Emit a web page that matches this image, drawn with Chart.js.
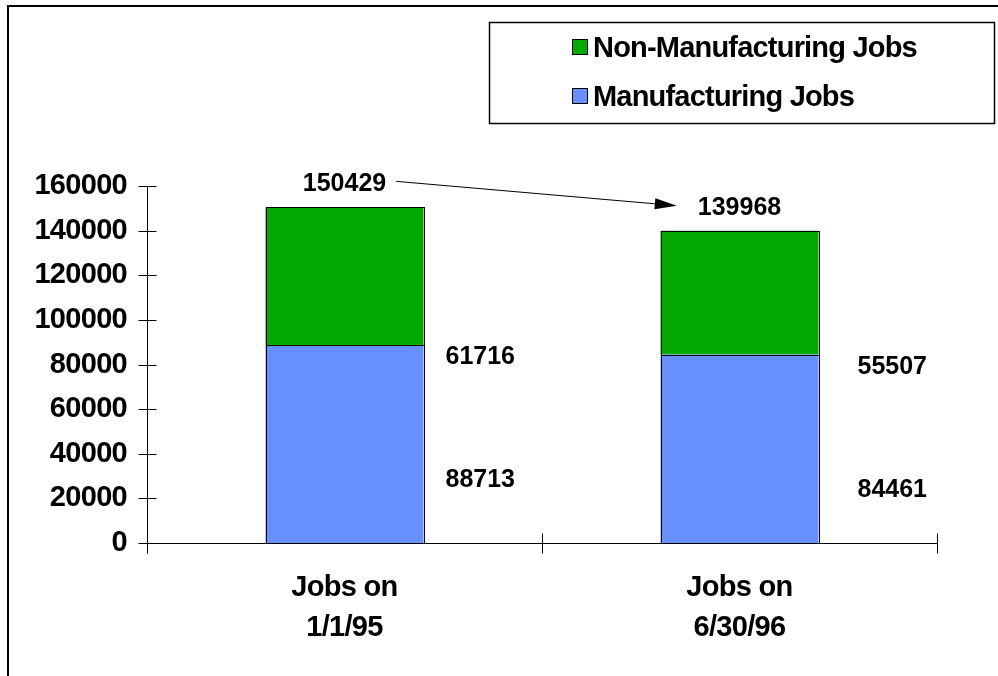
<!DOCTYPE html>
<html><head><meta charset="utf-8">
<script src="https://cdn.jsdelivr.net/npm/chart.js@4"></script>
<style>html,body{margin:0;padding:0;background:#fff;overflow:hidden;} canvas{display:block;}</style>
</head><body>
<canvas id="c" width="998" height="676" style="width:998px;height:676px"></canvas>
<script>
// ---- data ----
const categories = [["Jobs on", "1/1/95"], ["Jobs on", "6/30/96"]];
const manufacturing = [88713, 84461];
const nonManufacturing = [61716, 55507];
const totals = [150429, 139968];
const yTickValues = [0, 20000, 40000, 60000, 80000, 100000, 120000, 140000, 160000];
const seriesNames = ["Non-Manufacturing Jobs", "Manufacturing Jobs"];

// ---- styles ----
const GREEN = '#00AA00';
const BLUE = '#6690FF';
const FONT = '"Liberation Sans", Arial, Helvetica, sans-serif';
const segLabelDx = [101, 118];

const spacing = {
  id: 'spacing',
  beforeUpdate(chart) { chart.ctx.letterSpacing = '-0.7px'; },
  beforeDraw(chart) { chart.ctx.letterSpacing = '-0.7px'; }
};

const decor = {
  id: 'decor',
  afterDatasetsDraw(chart) {
    const ctx = chart.ctx;
    ctx.save();
    ctx.strokeStyle = '#000';
    ctx.lineWidth = 1;
    chart.data.datasets.forEach((ds, di) => {
      chart.getDatasetMeta(di).data.forEach(el => {
        const l = Math.round(el.x - el.width / 2) + 0.5;
        const r = Math.round(el.x + el.width / 2) + 0.5;
        const t = Math.round(Math.min(el.y, el.base)) + 0.5;
        const b = Math.round(Math.max(el.y, el.base)) + 0.5;
        ctx.strokeRect(l, t, r - l, b - t);
      });
    });
    ctx.restore();
  },
  afterDraw(chart) {
    const ctx = chart.ctx;
    const xs = chart.scales.x, ys = chart.scales.y;
    const area = chart.chartArea;
    ctx.save();
    // outer frame
    ctx.fillStyle = '#000';
    ctx.fillRect(7, 5, 2, 671);
    ctx.fillRect(7, 5, 991, 2);

    // axes
    ctx.strokeStyle = '#000';
    ctx.lineWidth = 1;
    const ax = Math.round(area.left) + 0.5;
    const ay = Math.round(ys.getPixelForValue(0)) + 0.5;
    const yTop = Math.round(ys.getPixelForValue(yTickValues[yTickValues.length - 1])) + 0.5;
    ctx.beginPath();
    ctx.moveTo(ax, yTop); ctx.lineTo(ax, ay + 10);
    ctx.moveTo(ax, ay); ctx.lineTo(Math.round(area.right) + 0.5, ay);
    yTickValues.forEach(v => {
      const py = Math.round(ys.getPixelForValue(v)) + 0.5;
      ctx.moveTo(ax - 9, py); ctx.lineTo(ax + 9, py);
    });
    const n = categories.length;
    for (let i = 0; i <= n; i++) {
      const px = Math.round(xs.getPixelForValue(i - 0.5)) + 0.5;
      ctx.moveTo(px, ay - 10); ctx.lineTo(px, ay + 10);
    }
    ctx.stroke();

    // data labels
    const metaBlue = chart.getDatasetMeta(0);
    ctx.fillStyle = '#000';
    ctx.letterSpacing = '0px';
    ctx.font = 'bold 25px ' + FONT;
    ctx.textBaseline = 'alphabetic';
    const totalPos = [];
    totals.forEach((t, i) => {
      const cx = metaBlue.data[i].x;
      const by = ys.getPixelForValue(t) - 16;
      ctx.textAlign = 'center';
      ctx.fillText(String(t), cx, by);
      const w = ctx.measureText(String(t)).width;
      totalPos.push({cx, by, w});
      const blueTop = ys.getPixelForValue(manufacturing[i]);
      ctx.textAlign = 'left';
      ctx.fillText(String(nonManufacturing[i]), cx + segLabelDx[i], blueTop + 19);
      ctx.fillText(String(manufacturing[i]), cx + segLabelDx[i], blueTop + 142);
    });
    if (totalPos.length > 1) {
      const a = totalPos[0], b = totalPos[1];
      const sx = a.cx + a.w / 2 + 10, sy = a.by - 10;
      const ex = b.cx - b.w / 2 - 21, ey = b.by - 9;
      const ang = Math.atan2(ey - sy, ex - sx);
      const hl = 22, hw = 5.5;
      const bx = ex - hl * Math.cos(ang), bY = ey - hl * Math.sin(ang);
      ctx.beginPath();
      ctx.moveTo(sx, sy); ctx.lineTo(bx, bY);
      ctx.stroke();
      ctx.beginPath();
      ctx.moveTo(ex, ey);
      ctx.lineTo(bx + hw * Math.sin(ang), bY - hw * Math.cos(ang));
      ctx.lineTo(bx - hw * Math.sin(ang), bY + hw * Math.cos(ang));
      ctx.closePath();
      ctx.fill();
    }

    // legend
    ctx.lineWidth = 1.5;
    ctx.strokeRect(489.5, 22.5, 505, 101);
    const colors = [GREEN, BLUE];
    ctx.font = 'bold 29px ' + FONT;
    ctx.letterSpacing = '-0.8px';
    ctx.textAlign = 'left';
    seriesNames.forEach((name, i) => {
      const top = 39 + i * 49;
      ctx.fillStyle = colors[i];
      ctx.fillRect(572, top, 16, 16);
      ctx.lineWidth = 1;
      ctx.strokeStyle = '#000';
      ctx.strokeRect(572.5, top + 0.5, 15, 15);
      ctx.fillStyle = '#000';
      ctx.fillText(name, 593, 57 + i * 49);
    });
    ctx.restore();
  }
};

new Chart(document.getElementById('c'), {
  type: 'bar',
  data: {
    labels: categories,
    datasets: [
      { label: seriesNames[1], data: manufacturing, backgroundColor: BLUE, borderWidth: 0, barPercentage: 0.4, categoryPercentage: 1.0 },
      { label: seriesNames[0], data: nonManufacturing, backgroundColor: GREEN, borderWidth: 0, barPercentage: 0.4, categoryPercentage: 1.0 }
    ]
  },
  options: {
    responsive: false,
    animation: false,
    devicePixelRatio: 1,
    layout: { padding: { left: 0, top: 186, right: 61, bottom: 0 } },
    plugins: { legend: { display: false }, tooltip: { enabled: false } },
    scales: {
      x: {
        stacked: true,
        grid: { display: false, drawTicks: false },
        border: { display: false },
        ticks: { color: '#000', padding: 25, maxRotation: 0, autoSkip: false, font: { family: FONT, size: 29, weight: 'bold', lineHeight: 40 / 29 } },
        afterFit(s) { s.height = 133; }
      },
      y: {
        stacked: true,
        min: 0, max: 160000,
        grid: { display: false, drawTicks: false },
        border: { display: false },
        afterBuildTicks(s) { s.ticks = yTickValues.map(v => ({ value: v })); },
        ticks: { color: '#000', padding: 20, callback: v => String(v), font: { family: FONT, size: 29, weight: 'bold' } },
        afterFit(s) { s.width = 147; }
      }
    }
  },
  plugins: [spacing, decor]
});
</script>
</body></html>
